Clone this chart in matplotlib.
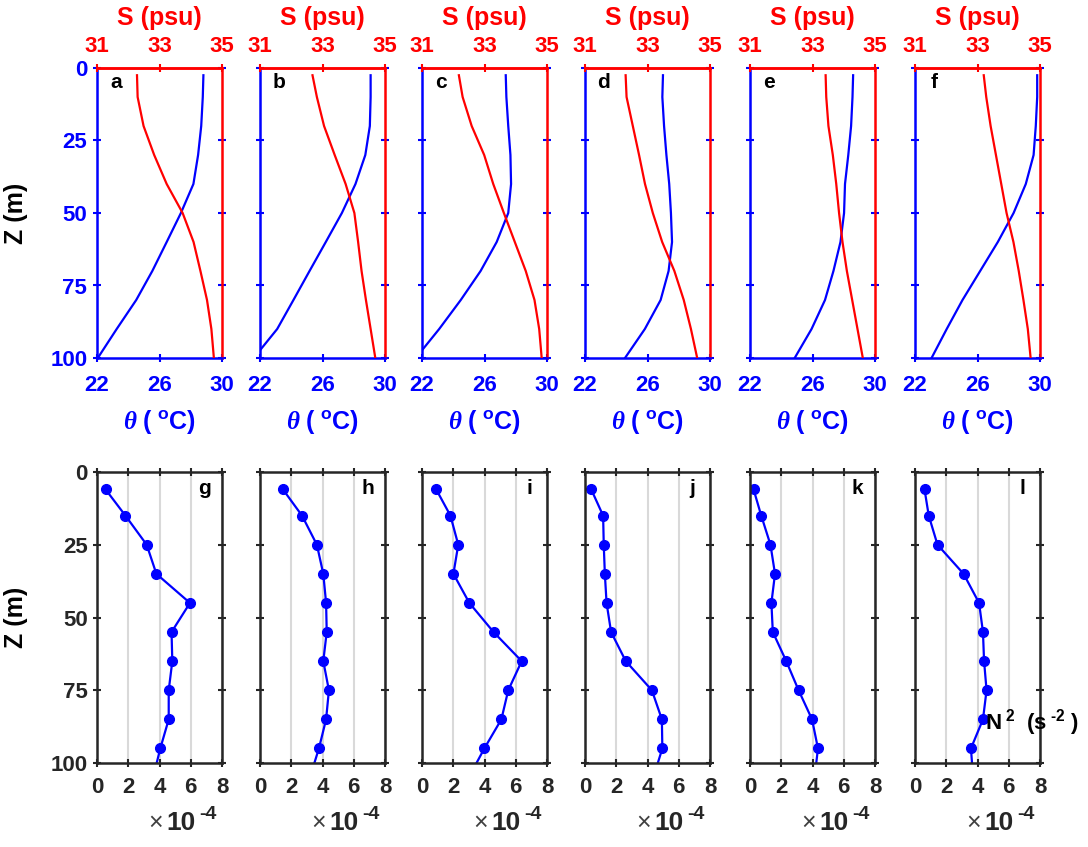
import numpy as np
import matplotlib.pyplot as plt

plt.rcParams['font.family'] = ['Liberation Sans', 'DejaVu Sans']
plt.rcParams['font.weight'] = 'bold'
plt.rcParams['axes.labelweight'] = 'bold'
plt.rcParams['mathtext.fontset'] = 'custom'
plt.rcParams['mathtext.rm'] = 'Liberation Sans'
plt.rcParams['mathtext.bf'] = 'Liberation Sans:bold'
plt.rcParams['mathtext.it'] = 'Liberation Serif:italic'

# profundidades dos perfis de temperatura e salinidade (m)
z_prof = [2.5, 10, 20, 30, 40, 50, 60, 70, 80, 90, 100]

theta_a = [28.81, 28.77, 28.67, 28.47, 28.17, 27.37, 26.46, 25.54, 24.51, 23.26, 22.05]
theta_b = [29.08, 29.08, 29.03, 28.74, 28.11, 27.24, 26.21, 25.17, 24.14, 23.10, 21.60]
theta_c = [27.36, 27.40, 27.52, 27.66, 27.70, 27.52, 26.78, 25.75, 24.48, 23.10, 21.60]
theta_d = [26.99, 26.95, 27.06, 27.21, 27.39, 27.50, 27.57, 27.35, 26.84, 25.83, 24.56]
theta_e = [28.60, 28.56, 28.47, 28.29, 28.08, 28.02, 27.79, 27.34, 26.80, 25.94, 24.86]
theta_f = [29.82, 29.82, 29.73, 29.59, 29.09, 28.31, 27.30, 26.17, 25.04, 24.03, 23.06]

salt_a = [32.28, 32.30, 32.49, 32.83, 33.23, 33.74, 34.09, 34.31, 34.52, 34.66, 34.74]
salt_b = [32.68, 32.82, 33.05, 33.39, 33.74, 34.02, 34.14, 34.25, 34.39, 34.54, 34.69]
salt_c = [32.18, 32.30, 32.59, 32.99, 33.28, 33.62, 33.97, 34.32, 34.60, 34.75, 34.83]
salt_d = [32.30, 32.33, 32.53, 32.73, 32.92, 33.17, 33.47, 33.86, 34.16, 34.39, 34.59]
salt_e = [33.42, 33.44, 33.51, 33.65, 33.76, 33.85, 33.96, 34.10, 34.27, 34.44, 34.61]
salt_f = [33.20, 33.28, 33.42, 33.59, 33.76, 33.93, 34.15, 34.32, 34.47, 34.61, 34.70]

# N2 em unidades de 1e-4 s^-2
z_n2 = [6, 15, 25, 35, 45, 55, 65, 75, 85, 95]
n2_g = [0.55, 1.82, 3.18, 3.80, 5.95, 4.77, 4.82, 4.59, 4.59, 4.05]
n2_h = [1.47, 2.69, 3.64, 4.05, 4.23, 4.27, 4.05, 4.41, 4.23, 3.77]
n2_i = [0.91, 1.82, 2.32, 2.01, 3.03, 4.58, 6.38, 5.52, 5.08, 3.99]
n2_j = [0.40, 1.16, 1.20, 1.27, 1.38, 1.67, 2.61, 4.28, 4.92, 4.95]
n2_k = [0.23, 0.72, 1.31, 1.60, 1.37, 1.46, 2.32, 3.11, 3.97, 4.35]
n2_l = [0.61, 0.88, 1.44, 3.11, 4.10, 4.35, 4.42, 4.58, 4.35, 3.58]
# valor onde a linha toca o fundo (z = 100 m)
n2_fundo = [3.82, 3.48, 3.49, 4.66, 4.24, 3.65]

letras_top = ['a', 'b', 'c', 'd', 'e', 'f']
letras_bot = ['g', 'h', 'i', 'j', 'k', 'l']
theta_all = [theta_a, theta_b, theta_c, theta_d, theta_e, theta_f]
salt_all = [salt_a, salt_b, salt_c, salt_d, salt_e, salt_f]
n2_all = [n2_g, n2_h, n2_i, n2_j, n2_k, n2_l]

W, H = 1088, 847
fig = plt.figure(figsize=(W / 100, H / 100), dpi=100)

lefts = [97, 260, 422, 585, 750, 915]
pw = 125
azul = '#0000ff'
verm = '#ff0000'
cinza = '#262626'

for k in range(6):
    # linha de cima: theta e S
    ax = fig.add_axes([lefts[k] / W, 1 - 358 / H, pw / W, 290 / H])
    ax.plot(theta_all[k], z_prof, color=azul, lw=1.6, clip_on=True)
    ax.set_xlim(22, 30)
    ax.set_ylim(100, 0)
    ax.set_xticks([22, 26, 30])
    ax.set_yticks([0, 25, 50, 75, 100])
    ax.tick_params(axis='both', direction='inout', length=6, width=1.5, labelsize=16)
    ax.tick_params(axis='x', colors=azul, pad=9)
    ax.tick_params(axis='y', colors=azul, right=True, pad=4)
    for t in ax.yaxis.get_major_ticks():
        t.tick2line.set_color(verm)
    for s in ['left', 'bottom']:
        ax.spines[s].set_color(azul)
        ax.spines[s].set_linewidth(1.8)
    for s in ['right', 'top']:
        ax.spines[s].set_color(verm)
        ax.spines[s].set_linewidth(1.8)
    if k == 0:
        ax.set_ylabel('Z (m)', fontsize=18, color='black')
        ax.yaxis.set_label_coords(-0.55, 0.5)
    else:
        ax.set_yticklabels([])
    ax.set_xlabel(r'$\theta\ \mathbf{(\ ^{o}C)}$', fontsize=18, color=azul, labelpad=9)
    ax.text(0.15, 0.95, letras_top[k], transform=ax.transAxes, fontsize=15,
            ha='center', va='center', color='black')

    ax2 = ax.twiny()
    ax2.plot(salt_all[k], z_prof, color=verm, lw=1.6)
    ax2.set_xlim(31, 35)
    ax2.set_ylim(100, 0)
    ax2.set_xticks([31, 33, 35])
    ax2.tick_params(axis='x', colors=verm, direction='inout', length=6, width=1.5,
                    labelsize=16, pad=5)
    for s in ['left', 'bottom', 'right']:
        ax2.spines[s].set_visible(False)
    ax2.spines['top'].set_color(verm)
    ax2.spines['top'].set_linewidth(1.8)
    ax2.set_xlabel('S (psu)', fontsize=18, color=verm, labelpad=8)

    # linha de baixo: N2
    bx = fig.add_axes([lefts[k] / W, 1 - 763 / H, pw / W, 291 / H])
    bx.plot(n2_all[k] + [n2_fundo[k]], z_n2 + [100], color=azul, lw=1.6)
    bx.plot(n2_all[k], z_n2, 'o', color=azul, ms=7)
    bx.set_xlim(0, 8)
    bx.set_ylim(100, 0)
    bx.set_xticks([0, 2, 4, 6, 8])
    bx.set_yticks([0, 25, 50, 75, 100])
    bx.grid(axis='x', color='#d9d9d9', lw=1.5)
    bx.set_axisbelow(True)
    bx.tick_params(axis='both', direction='inout', length=6, width=1.5, top=True, right=True,
                   color=cinza, labelcolor=cinza, labelsize=16)
    bx.tick_params(axis='x', pad=7)
    for s in bx.spines.values():
        s.set_color(cinza)
        s.set_linewidth(1.8)
    if k == 0:
        bx.set_ylabel('Z (m)', fontsize=18, color='black')
        bx.yaxis.set_label_coords(-0.55, 0.5)
    else:
        bx.set_yticklabels([])
    bx.text(0.86, 0.945, letras_bot[k], transform=bx.transAxes, fontsize=15,
            ha='center', va='center', color='black')
    # fator de escala do eixo x
    bx.text(0.47, -0.205, '×', transform=bx.transAxes, fontsize=18, fontweight='normal',
            ha='center', va='center', color='#404040')
    bx.text(0.555, -0.205, '10', transform=bx.transAxes, fontsize=19,
            ha='left', va='center', color=cinza)
    bx.text(0.82, -0.178, '-4', transform=bx.transAxes, fontsize=14,
            ha='left', va='center', color=cinza)
    if k == 5:
        bx.text(4.45, 86, r'$\mathbf{N^{\ 2}\ \ (s^{\ ‐2}\ )}$', fontsize=16, ha='left',
                va='center', color='black', clip_on=False)

fig.savefig('out.png', dpi=100)
